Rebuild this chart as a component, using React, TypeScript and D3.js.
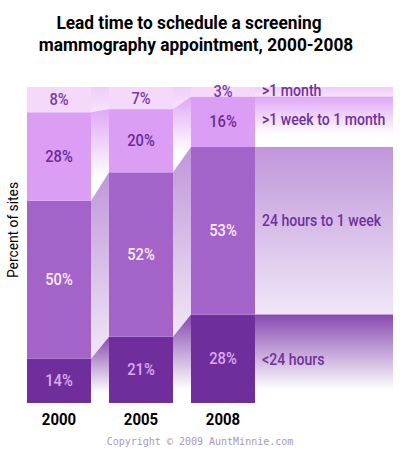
import * as d3 from 'd3';

// Lead time data, percent of sites per year
const years = ['2000', '2005', '2008'];
const categories = ['<24 hours', '24 hours to 1 week', '>1 week to 1 month', '>1 month'];
const under24h = [14, 21, 28];
const day1To1wk = [50, 52, 53];
const wk1To1mo = [28, 20, 16];
const over1mo = [8, 7, 3];

const W = 400;
const H = 451;
const keys = ['a', 'b', 'c', 'd'];

const barColors = ['#702e9c', '#a463c9', '#dc9ef5', '#f5d9fb'];
const ribbonColors = ['#7a36a8', '#b88ad6', '#dc9ef5', '#eec8f8'];
const ribbonFade = [0.85, 1.0, 0.75, 1.0];
const ribbonEndOpacity = [0, 0.2, 0, 0.5];
const valueColors = ['#dcaaf4', '#f6ecff', '#6a2a98', '#7a3aa8'];
const legendDy = [6.5, -5, 3.5, 4.5];

const font = 'Roboto, "Noto Sans", sans-serif';
// the original face is a narrow one, so squeeze a bit horizontally
const narrow = 0.88;

export default function App() {
  const rows = years.map((y, i) => ({
    year: y,
    a: under24h[i],
    b: day1To1wk[i],
    c: wk1To1mo[i],
    d: over1mo[i],
  }));
  const series = d3.stack<any>().keys(keys)(rows);

  const x = d3.scaleBand().domain(years).range([27, 255]).paddingInner(18 / 82).paddingOuter(0);
  const y = d3.scaleLinear().domain([0, 100]).range([403, 87]);
  const bw = x.bandwidth();
  const rightEdge = 393;

  // ribbons between bars and trailing to the right
  const ribbons: { key: string; si: number; pts: [number, number][] }[] = [];
  series.forEach((s, si) => {
    for (let i = 0; i < years.length; i++) {
      const x0 = (x(years[i]) as number) + bw;
      const x1 = i < years.length - 1 ? (x(years[i + 1]) as number) : rightEdge;
      const j = i < years.length - 1 ? i + 1 : i;
      ribbons.push({
        key: `${si}-${i}`,
        si,
        pts: [
          [x0, y(s[i][1])],
          [x1, y(s[j][1])],
          [x1, y(s[j][0])],
          [x0, y(s[i][0])],
        ],
      });
    }
  });

  return (
    <svg width={W} height={H} style={{ position: 'absolute', left: 0, top: 0, background: '#fff' }}>
      <defs>
        {barColors.map((_, si) => (
          <linearGradient key={si} id={`rib${si}`} x1="0" y1="0" x2="0" y2="1">
            <stop offset="0" stopColor={ribbonColors[si]} stopOpacity={0.9} />
            <stop offset={ribbonFade[si]} stopColor={ribbonColors[si]} stopOpacity={ribbonEndOpacity[si]} />
          </linearGradient>
        ))}
      </defs>

      <g fontFamily={font} fontWeight={700} fontSize={19} textAnchor="middle" fill="#000">
        <text transform="translate(189,29) scale(0.91,1)">Lead time to schedule a screening</text>
        <text transform="translate(196,51) scale(0.91,1)">mammography appointment, 2000-2008</text>
      </g>

      {ribbons.map((r) => (
        <path
          key={r.key}
          d={d3.line()(r.pts) + 'Z'}
          fill={`url(#rib${r.si})`}
        />
      ))}

      {series.map((s, si) => (
        <g key={si}>
          {s.map((d, i) => (
            <rect
              key={i}
              x={x(years[i])}
              y={y(d[1])}
              width={bw}
              height={y(d[0]) - y(d[1])}
              fill={barColors[si]}
            />
          ))}
        </g>
      ))}

      <g fontFamily={font} fontWeight={500} fontSize={16} textAnchor="middle">
        {series.map((s, si) =>
          s.map((d, i) => (
            <text
              key={`${si}-${i}`}
              transform={`translate(${(x(years[i]) as number) + bw / 2},${(y(d[0]) + y(d[1])) / 2 + 5.5}) scale(0.92,1)`}
              fill={valueColors[si]}
            >
              {`${d[1] - d[0]}%`}
            </text>
          ))
        )}
      </g>

      <g fontFamily={font} fontWeight={500} fontSize={16} fill="#7030a0">
        {series.map((s, si) => {
          const d = s[years.length - 1];
          return (
            <text
              key={si}
              transform={`translate(262,${(y(d[0]) + y(d[1])) / 2 + legendDy[si]}) scale(${narrow},1)`}
            >
              {categories[si]}
            </text>
          );
        })}
      </g>

      <text
        transform="translate(18,230) rotate(-90) scale(0.92,1)"
        textAnchor="middle"
        fontFamily={font}
        fontSize={15}
        fill="#000"
      >
        Percent of sites
      </text>

      <g fontFamily={font} fontWeight={700} fontSize={17} textAnchor="middle" fill="#000">
        {years.map((yr) => (
          <text key={yr} transform={`translate(${(x(yr) as number) + bw / 2},425) scale(0.88,1)`}>
            {yr}
          </text>
        ))}
      </g>

      <text x={200} y={445} textAnchor="middle" fontFamily='"DejaVu Sans Mono", monospace' fontSize={10} fill="#a898c0">
        Copyright © 2009 AuntMinnie.com
      </text>
    </svg>
  );
}
